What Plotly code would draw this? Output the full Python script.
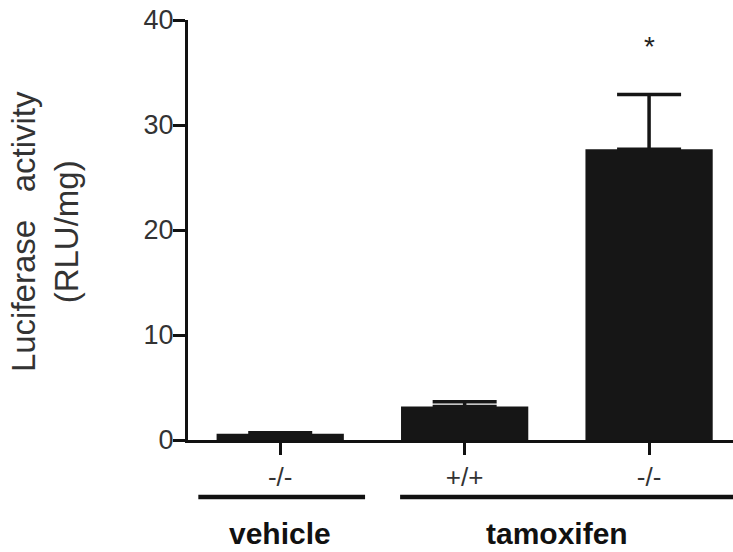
import plotly.graph_objects as go

# ---- data ----
genotypes = ["-/-", "+/+", "-/-"]
treatment = ["vehicle", "tamoxifen", "tamoxifen"]
activity = [0.6, 3.2, 27.7]
sem = [0.1, 0.45, 5.2]
significance = ["", "", "*"]
y_ticks = [0, 10, 20, 30, 40]

FONT = "Liberation Sans, Arial, sans-serif"
BAR = "#161616"
TXT = "#333333"

xs = list(range(len(genotypes)))

fig = go.Figure()
fig.add_trace(go.Bar(
    x=xs, y=activity, width=0.69,
    marker=dict(color=BAR, line=dict(width=0)),
    error_y=dict(type="data", symmetric=False, array=sem,
                 arrayminus=[0] * len(sem), color=BAR,
                 thickness=3.5, width=32),
    showlegend=False,
))

# significance marks
for x, v, e, s in zip(xs, activity, sem, significance):
    if s:
        fig.add_annotation(x=x, y=v + e + 4.6, text=s, showarrow=False,
                           xref="x", yref="y", yanchor="middle",
                           font=dict(family=FONT, size=28, color="#222"))

# group lines & labels
groups = []
for i, t in enumerate(treatment):
    if groups and groups[-1][0] == t:
        groups[-1][2] = i
    else:
        groups.append([t, i, i])

for gi, (name, i0, i1) in enumerate(groups):
    x0 = i0 - 0.444
    x1 = i1 + 0.46 if gi < len(groups) - 1 else i1 + 0.6
    if gi > 0:
        x0 = i0 - 0.35
    fig.add_shape(type="line", xref="x", yref="paper", x0=x0, x1=x1,
                  y0=-0.1357, y1=-0.1357, line=dict(color="#111", width=4.5))
    fig.add_annotation(x=(i0 + i1) / 2, y=(440 - 551) / 420, xref="x", yref="paper",
                       text="<b>%s</b>" % name, showarrow=False,
                       yanchor="bottom", borderpad=0,
                       font=dict(family=FONT, size=30, color="#111"))

# y title
fig.add_annotation(xref="paper", yref="paper", x=(45 - 188) / 545, y=0.495,
                   text="Luciferase&nbsp;&nbsp; activity<br>(RLU/mg)", textangle=-90,
                   showarrow=False, xanchor="center", yanchor="middle",
                   font=dict(family=FONT, size=33, color=TXT))

fig.update_layout(
    width=733, height=552,
    margin=dict(l=188, r=0, t=20, b=112),
    plot_bgcolor="white", paper_bgcolor="white",
    bargap=0.3,
    font=dict(family=FONT, color=TXT),
)
fig.update_xaxes(
    range=[-0.5, 2.455], tickvals=xs, ticktext=genotypes,
    showline=True, linecolor="#111", linewidth=3,
    ticks="outside", ticklen=12, tickwidth=2.5, tickcolor="#111",
    tickfont=dict(family=FONT, size=26, color=TXT),
    showgrid=False, zeroline=False,
)
fig.update_yaxes(
    range=[0, 40], tickvals=y_ticks,
    showline=True, linecolor="#111", linewidth=3,
    ticks="outside", ticklen=12, tickwidth=2.5, tickcolor="#111",
    tickfont=dict(family=FONT, size=27, color=TXT),
    ticklabelstandoff=-6,
    showgrid=False, zeroline=False,
)

fig.write_html("out.html")
